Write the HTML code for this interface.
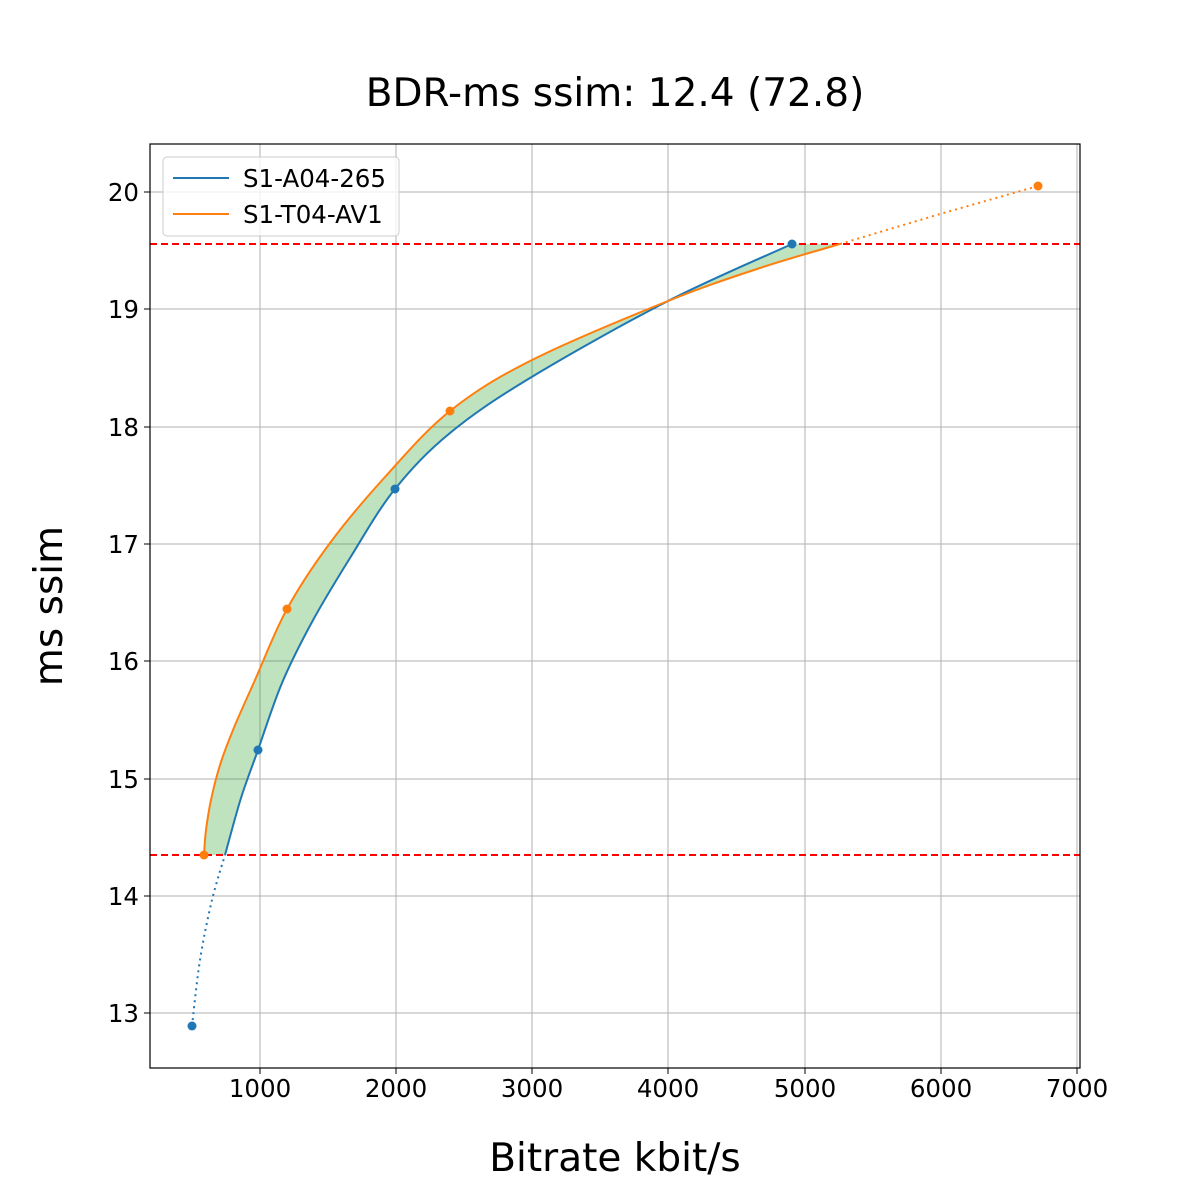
<!DOCTYPE html>
<html><head><meta charset="utf-8"><style>body{margin:0;background:#fff}svg{display:block}text{font-family:"DejaVu Sans","Liberation Sans",sans-serif;fill:#000}</style></head><body>
<svg width="1200" height="1200" viewBox="0 0 1200 1200">
<g stroke="#b0b0b0" stroke-width="1">
<line x1="260" y1="144" x2="260" y2="1068"/><line x1="396" y1="144" x2="396" y2="1068"/><line x1="532" y1="144" x2="532" y2="1068"/><line x1="668" y1="144" x2="668" y2="1068"/><line x1="805" y1="144" x2="805" y2="1068"/><line x1="941" y1="144" x2="941" y2="1068"/><line x1="1077" y1="144" x2="1077" y2="1068"/>
<line x1="150" y1="192" x2="1080" y2="192"/><line x1="150" y1="309" x2="1080" y2="309"/><line x1="150" y1="427" x2="1080" y2="427"/><line x1="150" y1="544" x2="1080" y2="544"/><line x1="150" y1="661" x2="1080" y2="661"/><line x1="150" y1="779" x2="1080" y2="779"/><line x1="150" y1="896" x2="1080" y2="896"/><line x1="150" y1="1013" x2="1080" y2="1013"/>
</g>
<path id="fill" fill="#2ca02c" fill-opacity="0.3" d=""/>
<line x1="150" y1="244" x2="1080" y2="244" stroke="#ff0000" stroke-width="2" stroke-dasharray="7,4"/>
<line x1="150" y1="855" x2="1080" y2="855" stroke="#ff0000" stroke-width="2" stroke-dasharray="7,4"/>
<g fill="none" stroke-width="2" stroke-linejoin="round">
<path id="blue" stroke="#1f77b4" d=""/>
<path id="bdot" stroke="#1f77b4" stroke-dasharray="2,4" d=""/>
<path id="orange" stroke="#ff7f0e" d=""/>
<polyline stroke="#ff7f0e" stroke-dasharray="2,4" points="840,244 940,214 1038,186"/>
</g>
<g fill="#1f77b4"><circle cx="192" cy="1026" r="4.5"/><circle cx="258" cy="750" r="4.5"/><circle cx="395" cy="489" r="4.5"/><circle cx="792" cy="244" r="4.5"/></g>
<g fill="#ff7f0e"><circle cx="204" cy="855" r="4.5"/><circle cx="287" cy="609" r="4.5"/><circle cx="450" cy="411" r="4.5"/><circle cx="1038" cy="186" r="4.5"/></g>
<rect x="150" y="144" width="930" height="924" fill="none" stroke="#000" stroke-width="1.2"/>
<g stroke="#000"><line x1="260" y1="1068" x2="260" y2="1074"/><line x1="396" y1="1068" x2="396" y2="1074"/><line x1="532" y1="1068" x2="532" y2="1074"/><line x1="668" y1="1068" x2="668" y2="1074"/><line x1="805" y1="1068" x2="805" y2="1074"/><line x1="941" y1="1068" x2="941" y2="1074"/><line x1="1077" y1="1068" x2="1077" y2="1074"/>
<line x1="144" y1="192" x2="150" y2="192"/><line x1="144" y1="309" x2="150" y2="309"/><line x1="144" y1="427" x2="150" y2="427"/><line x1="144" y1="544" x2="150" y2="544"/><line x1="144" y1="661" x2="150" y2="661"/><line x1="144" y1="779" x2="150" y2="779"/><line x1="144" y1="896" x2="150" y2="896"/><line x1="144" y1="1013" x2="150" y2="1013"/></g>
<g font-size="24.5" text-anchor="middle"><text x="260" y="1097">1000</text><text x="396" y="1097">2000</text><text x="532" y="1097">3000</text><text x="668" y="1097">4000</text><text x="805" y="1097">5000</text><text x="941" y="1097">6000</text><text x="1077" y="1097">7000</text></g>
<g font-size="24.5" text-anchor="end"><text x="139" y="201">20</text><text x="139" y="318">19</text><text x="139" y="436">18</text><text x="139" y="553">17</text><text x="139" y="670">16</text><text x="139" y="788">15</text><text x="139" y="905">14</text><text x="139" y="1022">13</text></g>
<text x="615" y="106" font-size="39" text-anchor="middle">BDR-ms ssim: 12.4 (72.8)</text>
<text x="615" y="1171" font-size="39" text-anchor="middle">Bitrate kbit/s</text>
<text transform="translate(62,606) rotate(-90)" font-size="39" text-anchor="middle">ms ssim</text>
<rect x="163" y="157" width="236" height="79" rx="4" fill="#fff" fill-opacity="0.8" stroke="#cccccc"/>
<line x1="173" y1="178" x2="229" y2="178" stroke="#1f77b4" stroke-width="2"/>
<line x1="173" y1="214" x2="229" y2="214" stroke="#ff7f0e" stroke-width="2"/>
<text x="243" y="187" font-size="24.5">S1-A04-265</text>
<text x="243" y="223" font-size="24.5">S1-T04-AV1</text>
</svg>
<script>
function cr(p){var d="M"+p[0][0]+","+p[0][1];for(var i=0;i<p.length-1;i++){var a=p[i-1]||p[i],b=p[i],c=p[i+1],e=p[i+2]||c;d+=" C"+(b[0]+(c[0]-a[0])/6).toFixed(1)+","+(b[1]+(c[1]-a[1])/6).toFixed(1)+" "+(c[0]-(e[0]-b[0])/6).toFixed(1)+","+(c[1]-(e[1]-b[1])/6).toFixed(1)+" "+c[0]+","+c[1];}return d;}
var B=[[225,855],[241,798],[258,750],[282,683],[312,622],[350,558],[395,489],[450,433],[530,378],[668,301],[792,244]];
var O=[[204,855],[206,830],[211,800],[220,765],[233,730],[255,680],[287,609],[330,543],[385,477],[450,411],[532,360],[668,301],[760,268],[840,244]];
document.getElementById("blue").setAttribute("d",cr(B));
document.getElementById("orange").setAttribute("d",cr(O));
document.getElementById("bdot").setAttribute("d",cr([[192,1026],[200,960],[212,900],[225,855]]));
var r=B.slice().reverse();var f=cr(O)+" L"+r[0][0]+","+r[0][1]+cr(r).replace(/^M[^C]*/," ")+" Z";
document.getElementById("fill").setAttribute("d",f);
</script>
</body></html>
